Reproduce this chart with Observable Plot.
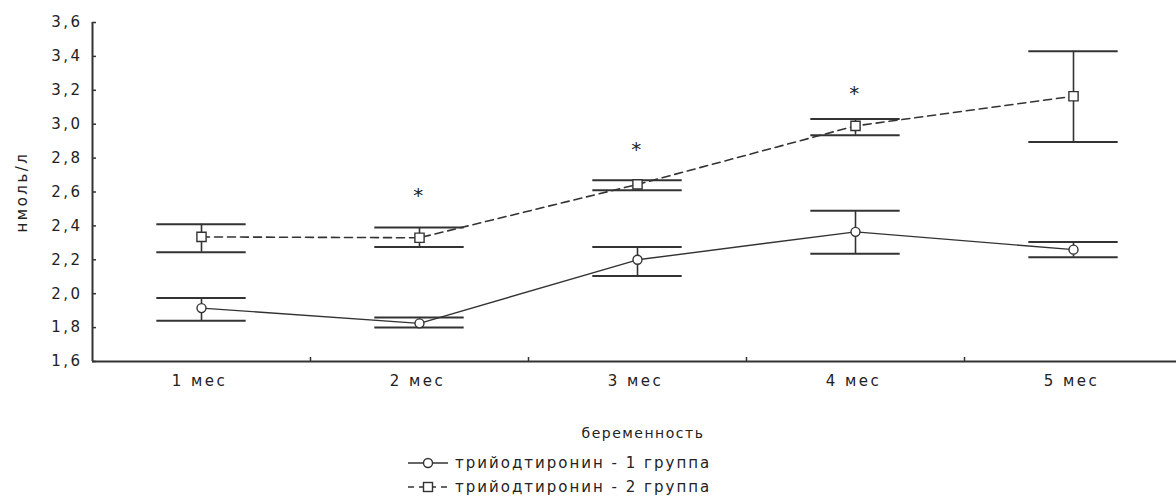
<!DOCTYPE html>
<html>
<head>
<meta charset="utf-8">
<script src="https://cdn.jsdelivr.net/npm/d3@7"></script>
<script src="https://cdn.jsdelivr.net/npm/@observablehq/plot@0.6"></script>
<style>
  html, body { margin: 0; padding: 0; background: #fff; }
  #wrap { width: 1176px; height: 501px; position: relative; overflow: hidden; font-family: "DejaVu Sans", sans-serif; color: #222; }
  #chart svg { display: block; }
  .xtitle { margin-top: 23px; height: 20px; line-height: 20px; font-size: 14px; letter-spacing: 1.5px; padding-left: 110px; text-align: center; }
  .legend { margin-top: 8px; padding-left: 407px; font-size: 15px; letter-spacing: 2px; }
  .legend .row { height: 24px; line-height: 24px; display: flex; align-items: center; }
  .legend svg { width: 44px; height: 16px; margin-right: 4px; flex: none; }
</style>
</head>
<body>
<div id="wrap">
  <div id="chart"></div>
  <div class="xtitle" id="xtitle"></div>
  <div class="legend" id="legend"></div>
</div>
<script>
// ---- data ----
const months = ["1 мес", "2 мес", "3 мес", "4 мес", "5 мес"];
const yTicks = [1.6, 1.8, 2.0, 2.2, 2.4, 2.6, 2.8, 3.0, 3.2, 3.4, 3.6];
const series1Name = "трийодтиронин - 1 группа";
const series1Mean = [1.915, 1.825, 2.20, 2.365, 2.26];
const series1Low  = [1.84, 1.80, 2.105, 2.235, 2.215];
const series1High = [1.975, 1.86, 2.275, 2.49, 2.305];
const series2Name = "трийодтиронин - 2 группа";
const series2Mean = [2.335, 2.33, 2.645, 2.99, 3.165];
const series2Low  = [2.245, 2.275, 2.61, 2.935, 2.895];
const series2High = [2.41, 2.39, 2.67, 3.03, 3.43];
const starMonths = ["2 мес", "3 мес", "4 мес"];
const starValues = [2.61, 2.88, 3.21];
const xTitle = "беременность";
const yTitle = "нмоль/л";

// ---- build tables ----
const idx = m => months.indexOf(m) + 1;
const s1 = months.map((m, i) => ({x: i + 1, mean: series1Mean[i], lo: series1Low[i], hi: series1High[i]}));
const s2 = months.map((m, i) => ({x: i + 1, mean: series2Mean[i], lo: series2Low[i], hi: series2High[i]}));
const stars = starMonths.map((m, i) => ({x: idx(m), y: starValues[i]}));
const bounds = months.slice(1).map((m, i) => i + 1.5);
const centers = months.map((m, i) => i + 1);

const ink = "#333";
const capHalf = 0.205;

function errorMarks(data) {
  return [
    Plot.ruleX(data, {x: "x", y1: "lo", y2: "hi", stroke: ink, strokeWidth: 1.6}),
    Plot.ruleY(data, {y: "lo", x1: d => d.x - capHalf, x2: d => d.x + capHalf, stroke: ink, strokeWidth: 2}),
    Plot.ruleY(data, {y: "hi", x1: d => d.x - capHalf, x2: d => d.x + capHalf, stroke: ink, strokeWidth: 2})
  ];
}

const chart = Plot.plot({
  width: 1176,
  height: 400,
  marginLeft: 92,
  marginRight: 0,
  marginTop: 22,
  marginBottom: 39,
  style: {fontFamily: "DejaVu Sans, sans-serif", fontSize: "15px", letterSpacing: "2.5px", color: "#222", background: "#fff"},
  x: {domain: [0.5, 5.5], range: [92, 1182]},
  y: {domain: [1.6, 3.6]},
  marks: [
    // y axis: labels + title
    Plot.axisY({ticks: yTicks, tickSize: 0, tickPadding: 10, tickFormat: d => d.toFixed(1).replace(".", ","),
      label: yTitle, labelAnchor: "center", labelOffset: 76, labelArrow: "none", fill: "#222"}),
    // y axis inward ticks
    Plot.axisY({ticks: yTicks, tickSize: 4, dx: 4, tickFormat: () => "", label: null, stroke: ink, strokeWidth: 1.5}),
    // x axis labels
    Plot.axisX({ticks: centers, tickSize: 0, tickPadding: 14, tickFormat: d => months[d - 1], label: null, fill: "#222", dx: -2}),
    // x axis inward ticks at category boundaries
    Plot.axisX({ticks: bounds, tickSize: 4, dy: -4, tickFormat: () => "", label: null, stroke: ink, strokeWidth: 1.5}),
    // axis lines
    Plot.ruleX([0.5], {stroke: ink, strokeWidth: 2}),
    Plot.ruleY([1.6], {stroke: ink, strokeWidth: 2}),
    // series lines
    Plot.line(s1, {x: "x", y: "mean", stroke: ink, strokeWidth: 1.4}),
    Plot.line(s2, {x: "x", y: "mean", stroke: ink, strokeWidth: 1.6, strokeDasharray: "8,5"}),
    // error bars
    ...errorMarks(s1),
    ...errorMarks(s2),
    // markers
    Plot.dot(s1, {x: "x", y: "mean", r: 4.5, fill: "#fff", stroke: ink, strokeWidth: 1.4}),
    Plot.dot(s2, {x: "x", y: "mean", symbol: "square", r: 5.2, fill: "#fff", stroke: ink, strokeWidth: 1.4}),
    // significance stars
    Plot.text(stars, {x: "x", y: "y", text: () => "*", fontSize: 20, dy: 5, fill: "#222", style: "letter-spacing:0"})
  ]
});
document.getElementById("chart").appendChild(chart);

document.getElementById("xtitle").textContent = xTitle;

const legend = d3.select("#legend");
const r1 = legend.append("div").attr("class", "row");
const sv1 = r1.append("svg").attr("viewBox", "0 0 44 16");
sv1.append("line").attr("x1", 1).attr("x2", 41).attr("y1", 8).attr("y2", 8).attr("stroke", ink).attr("stroke-width", 1.4);
sv1.append("circle").attr("cx", 21).attr("cy", 8).attr("r", 4.5).attr("fill", "#fff").attr("stroke", ink).attr("stroke-width", 1.4);
r1.append("span").text(series1Name);

const r2 = legend.append("div").attr("class", "row");
const sv2 = r2.append("svg").attr("viewBox", "0 0 44 16");
sv2.append("line").attr("x1", 1).attr("x2", 41).attr("y1", 8).attr("y2", 8).attr("stroke", ink).attr("stroke-width", 1.6).attr("stroke-dasharray", "6,5");
sv2.append("rect").attr("x", 16.5).attr("y", 3.5).attr("width", 9).attr("height", 9).attr("fill", "#fff").attr("stroke", ink).attr("stroke-width", 1.4);
r2.append("span").text(series2Name);
</script>
</body>
</html>
